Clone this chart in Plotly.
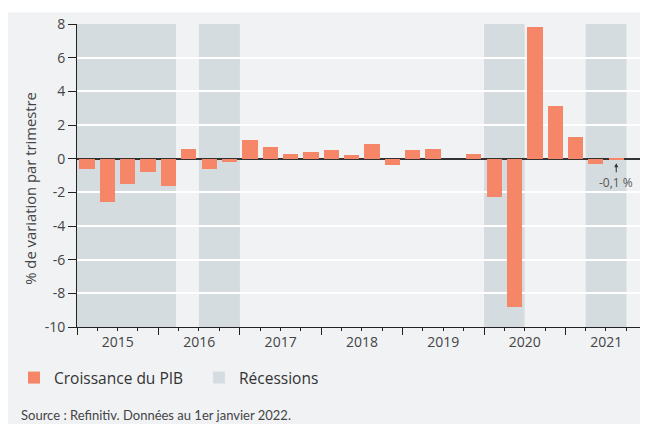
import pandas as pd
import plotly.graph_objects as go

# croissance trimestrielle du PIB (%), 2015T1 -> 2021T4
quarters = pd.period_range("2015Q1", "2021Q4", freq="Q")
growth = [-0.6, -2.6, -1.5, -0.8,
          -1.6, 0.6, -0.6, -0.2,
          1.1, 0.7, 0.3, 0.4,
          0.5, 0.2, 0.9, -0.4,
          0.5, 0.6, 0.0, 0.3,
          -2.3, -8.8, 7.8, 3.1,
          1.3, -0.3, -0.1, 0.0]

recession_start = ["2015-01-01", "2016-07-01", "2020-01-01", "2021-04-01"]
recession_end = ["2016-03-20", "2017-01-01", "2020-07-01", "2021-10-01"]

year_range = ["2015-01-01", "2022-01-01"]
y_ticks = [-10, -8, -6, -4, -2, 0, 2, 4, 6, 8]
y_labels = ["-10", "-8", "-6", "-4", "-2", "0", "2", "4", "6", "8"]

BAR = "#F58667"
SHADE = "#D5DCDF"
PANEL = "#F0F2F4"
TXT = "#444444"

W, H = 640, 416
ML, MR, MT, MB = 69, 1, 15.5, 97
PW = W - ML - MR
PH = H - MT - MB

starts = quarters.start_time
ends = quarters.end_time
mids = starts + (ends - starts) / 2
qwidth = 0.75 * 91.3 * 24 * 3600 * 1000

fig = go.Figure()
fig.add_trace(go.Bar(
    x=mids, y=growth, width=qwidth,
    marker=dict(color=BAR, line=dict(width=0)),
    name="Croissance du PIB",
))
fig.add_trace(go.Bar(
    x=[None], y=[None], marker=dict(color=SHADE),
    name="Récessions",
))

for s, e in zip(recession_start, recession_end):
    fig.add_shape(type="rect", xref="x", yref="paper", x0=s, x1=e, y0=0, y1=1,
                  fillcolor=SHADE, line=dict(width=0), layer="below")

# thin white strip above the panel
fig.add_shape(type="rect", xref="paper", yref="paper", x0=-0.3, x1=1.2,
              y0=1.0 + (MT - 4) / PH, y1=1.0 + (MT + 5) / PH, fillcolor="white",
              line=dict(width=0), layer="below")

fig.add_annotation(
    x=mids[26], y=growth[26], text="-0,1 %", showarrow=True,
    ax=0, ay=22, standoff=3, arrowhead=2, arrowsize=0.8, arrowwidth=1,
    arrowcolor="#333333", font=dict(size=12, color="#555555"),
)
# y-axis title, placed by hand (sits a little below the plot centre)
fig.add_annotation(
    xref="paper", yref="paper", x=-46.5 / PW, y=139 / PH,
    xanchor="center", yanchor="middle", showarrow=False, textangle=-90,
    text="% de variation par trimestre",
    font=dict(family="Open Sans", size=14.8, color=TXT),
)
fig.add_annotation(
    xref="paper", yref="paper", x=-58 / PW, y=-88 / PH,
    xanchor="left", yanchor="middle", showarrow=False,
    text="Source : Refinitiv. Données au 1er janvier 2022.",
    font=dict(family="Lato", size=13, color=TXT),
)

fig.update_layout(
    width=W, height=H,
    margin=dict(l=ML, r=MR, t=MT, b=MB),
    paper_bgcolor=PANEL,
    plot_bgcolor="rgba(0,0,0,0)",
    font=dict(family="Open Sans", size=14, color=TXT),
    bargap=0,
    showlegend=True,
    legend=dict(
        orientation="h", xref="container", yref="container",
        x=6 / W, y=1 - 370 / H, xanchor="left", yanchor="middle",
        font=dict(size=15.5, color="#333333"), bgcolor="rgba(0,0,0,0)",
        entrywidth=140, itemclick=False,
    ),
    xaxis=dict(
        type="date", range=year_range, dtick="M12", tick0="2015-01-01",
        ticklabelmode="period", tickformat="%Y", ticklabelstandoff=-5,
        ticks="outside", ticklen=7, tickcolor="#222222",
        minor=dict(dtick="M3", ticks="outside", ticklen=3, tickcolor="#222222",
                   showgrid=False),
        showline=True, linecolor="#222222", linewidth=1,
        showgrid=False, zeroline=False,
    ),
    yaxis=dict(
        range=[-10, 8], tickvals=y_ticks, ticktext=y_labels,
        ticks="outside", ticklen=8, tickcolor="#222222",
        showline=True, linecolor="#222222", linewidth=1,
        showgrid=True, gridcolor="white", gridwidth=1.5,
        zeroline=True, zerolinecolor="#333333", zerolinewidth=1.5,
    ),
)

fig.write_html("out.html")
